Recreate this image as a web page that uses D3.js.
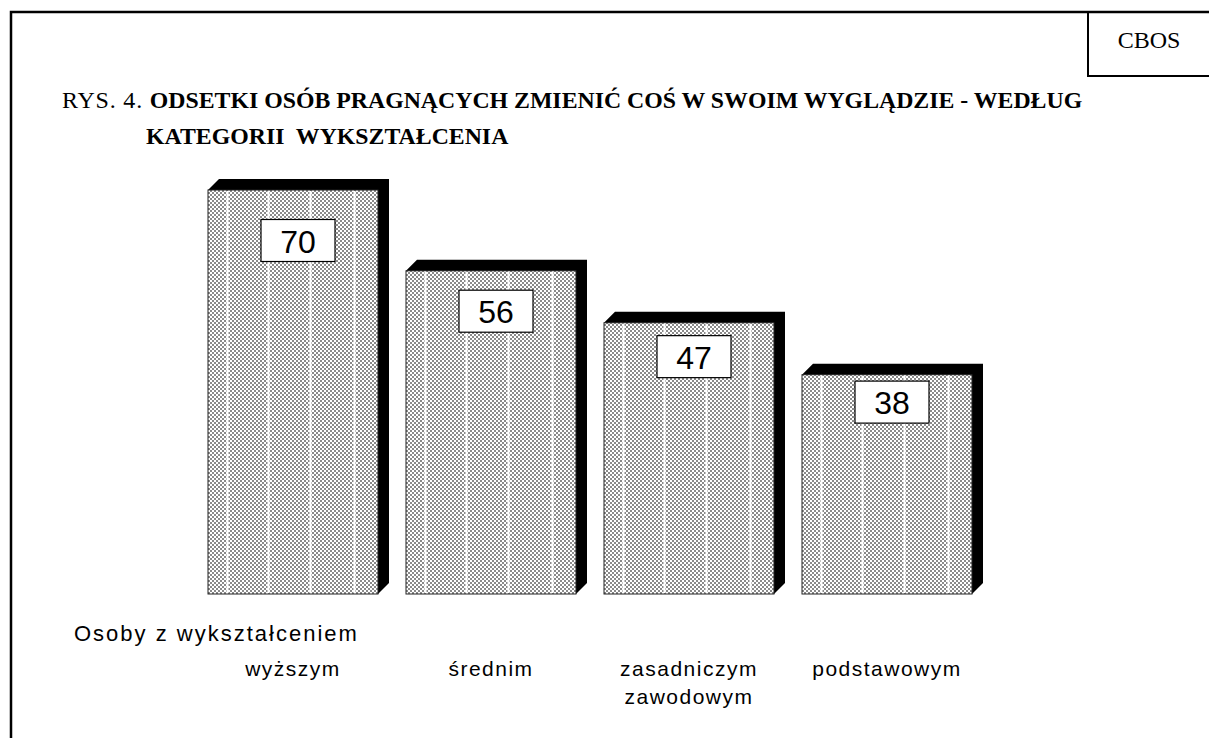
<!DOCTYPE html>
<html>
<head>
<meta charset="utf-8">
<script src="https://cdn.jsdelivr.net/npm/d3@7"></script>
<style>
  html, body { margin: 0; padding: 0; background: #fff; }
  svg { display: block; }
  text { white-space: pre; }
</style>
</head>
<body>
<svg id="chart" width="1209" height="738"></svg>
<script>
// ---- data ----
const categories = ["wyższym", "średnim", "zasadniczym\nzawodowym", "podstawowym"];
const values = [70, 56, 47, 38];
const titlePrefix = "RYS. 4. ";
const titleLine1 = "ODSETKI OSÓB PRAGNĄCYCH ZMIENIĆ COŚ W SWOIM WYGLĄDZIE - WEDŁUG";
const titleLine2 = "KATEGORII  WYKSZTAŁCENIA";
const sourceLabel = "CBOS";
const axisTitle = "Osoby z wykształceniem";

const W = 1209, H = 738;
const svg = d3.select("#chart");

// pattern (checker texture)
const defs = svg.append("defs");
const pat = defs.append("pattern").attr("id", "checker")
  .attr("patternUnits", "userSpaceOnUse").attr("width", 4).attr("height", 4);
pat.append("rect").attr("width", 4).attr("height", 4).attr("fill", "#fff");
pat.append("rect").attr("x", 0).attr("y", 0).attr("width", 2).attr("height", 2).attr("fill", "#8a8a8a");
pat.append("rect").attr("x", 2).attr("y", 2).attr("width", 2).attr("height", 2).attr("fill", "#8a8a8a");

// frame
svg.append("path").attr("d", `M11,${H} L11,12 L1210,12`).attr("fill", "none")
  .attr("stroke", "#000").attr("stroke-width", 2.5);
svg.append("path").attr("d", "M1088,12 L1088,76 L1210,76").attr("fill", "none")
  .attr("stroke", "#000").attr("stroke-width", 2);
svg.append("text").attr("x", 1149).attr("y", 48).attr("text-anchor", "middle")
  .attr("font-family", "Liberation Serif, Times New Roman, serif").attr("font-size", 24)
  .text(sourceLabel);

// title
const t1 = svg.append("text").attr("x", 62).attr("y", 108)
  .attr("font-family", "Liberation Serif, Times New Roman, serif").attr("font-size", 24);
t1.append("tspan").attr("letter-spacing", 0.8).text(titlePrefix);
t1.append("tspan").attr("font-weight", "bold").attr("font-size", 23.8).text(titleLine1);
svg.append("text").attr("x", 146).attr("y", 144)
  .attr("font-family", "Liberation Serif, Times New Roman, serif").attr("font-size", 23.8)
  .attr("font-weight", "bold").text(titleLine2);

// scales
const x = d3.scaleBand().domain(categories).range([194, 986])
  .paddingInner(28 / 198).paddingOuter(14 / 198);
const y = d3.scaleLinear().domain([0, 70]).range([594, 190]);
const depth = 11;
const bw = x.bandwidth();

const g = svg.append("g");
const bars = g.selectAll("g.bar").data(categories.map((c, i) => ({ c, v: values[i] })))
  .enter().append("g").attr("class", "bar");

// black top + side (3D)
bars.append("path").attr("fill", "#000").attr("d", d => {
  const x0 = x(d.c), x1 = x0 + bw, yt = y(d.v), yb = y(0);
  return `M${x0},${yt} L${x0 + depth},${yt - depth} L${x1 + depth},${yt - depth} L${x1 + depth},${yb - depth} L${x1},${yb} Z`;
});
// front face
bars.append("rect")
  .attr("x", d => x(d.c)).attr("y", d => y(d.v))
  .attr("width", bw).attr("height", d => y(0) - y(d.v))
  .attr("fill", "url(#checker)").attr("stroke", "#222").attr("stroke-width", 1);
// interior white vertical lines
const vFracs = [0.11, 0.35, 0.6, 0.86];
bars.each(function(d) {
  const sel = d3.select(this);
  vFracs.forEach(f => {
    const xx = Math.round(x(d.c) + f * bw) + 0.5;
    sel.append("line").attr("x1", xx).attr("x2", xx)
      .attr("y1", y(d.v) + 1).attr("y2", y(0) - 1)
      .attr("stroke", "#fff").attr("stroke-width", 2);
  });
});

// value label boxes
const lbl = bars.append("g").attr("transform", d =>
  `translate(${x(d.c) + bw / 2 + 5},${y(d.v * 0.875)})`);
lbl.append("rect").attr("x", -37).attr("y", -21).attr("width", 74).attr("height", 42)
  .attr("fill", "#fff").attr("stroke", "#000").attr("stroke-width", 1.2);
lbl.append("text").attr("text-anchor", "middle").attr("y", 12)
  .attr("font-family", "Liberation Sans, Arial, sans-serif").attr("font-size", 32)
  .text(d => d.v);

// axis title
svg.append("text").attr("x", 74).attr("y", 641)
  .attr("font-family", "Liberation Sans, Arial, sans-serif").attr("font-size", 22)
  .attr("letter-spacing", 2).text(axisTitle);

// category labels
const cat = svg.selectAll("text.cat").data(categories).enter().append("text")
  .attr("class", "cat")
  .attr("font-family", "Liberation Sans, Arial, sans-serif").attr("font-size", 21)
  .attr("letter-spacing", 1.5)
  .attr("text-anchor", "middle");
cat.each(function(c) {
  const lines = c.split("\n");
  const t = d3.select(this);
  lines.forEach((ln, i) => {
    t.append("tspan").attr("x", x(c) + bw / 2).attr("y", 676 + i * 28).text(ln);
  });
});
</script>
</body>
</html>
